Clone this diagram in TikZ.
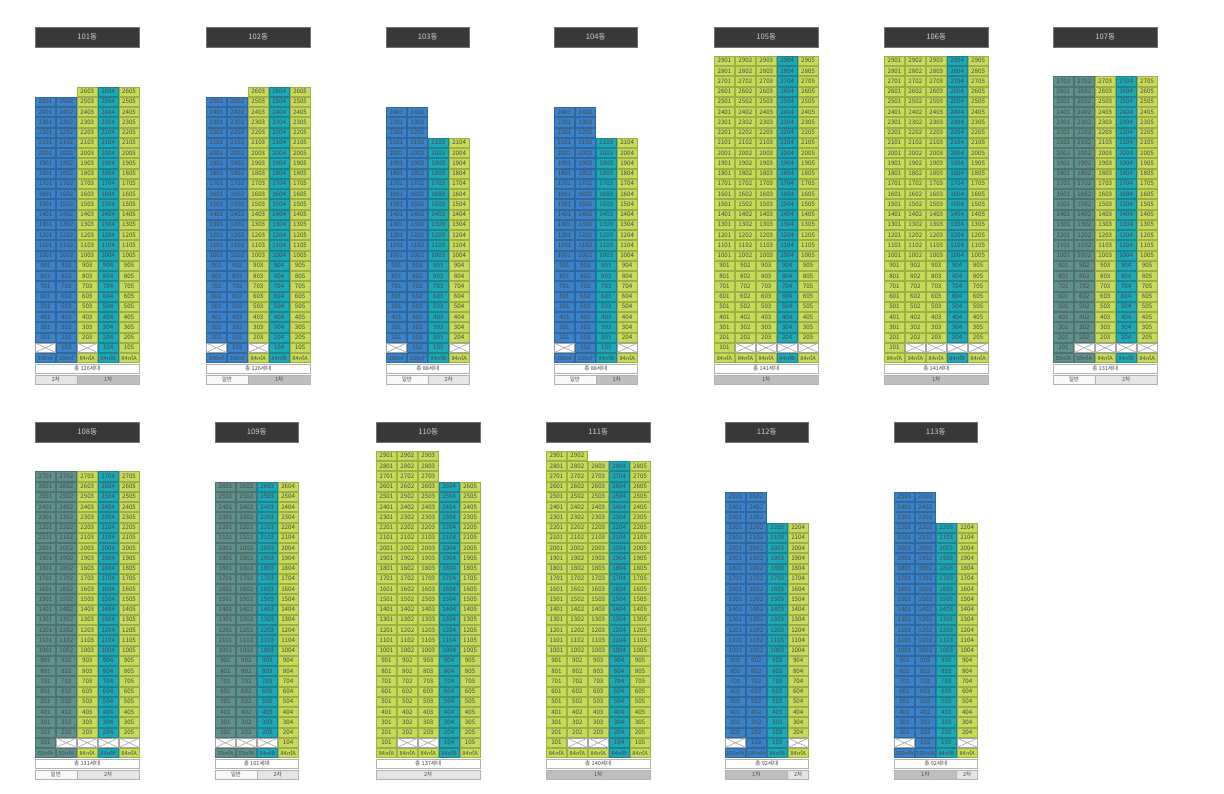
\documentclass[tikz,border=0pt]{standalone}
\usepackage{fontspec}
\setmainfont{Noto Sans CJK KR}
\usetikzlibrary{positioning}

\definecolor{unitblue}{HTML}{3B82C8}
\definecolor{unitteal}{HTML}{1DA7B7}
\definecolor{unitgreen}{HTML}{C7DB58}
\definecolor{unitgray}{HTML}{60908C}
\definecolor{phaseone}{HTML}{BEBEBE}
\definecolor{phasetwo}{HTML}{E5E5E5}
\definecolor{phasegen}{HTML}{F8F8F8}

\tikzset{
  unit/.style={fill=#1,draw=#1!80!black,line width=.25pt},
  nounit/.style={fill=white,draw=black!35,line width=.3pt},
  unitno/.style={font=\fontsize{3.1}{3.3}\selectfont,text=black!72,inner sep=0pt},
  unittype/.style={font=\fontsize{2.8}{3}\selectfont,text=black!72,inner sep=0pt},
  dongbar/.style={fill=black!78,draw=black!55,line width=.4pt},
  dongtext/.style={font=\fontsize{3.8}{4}\selectfont,text=black!18,inner sep=0pt},
  totalbox/.style={fill=white,draw=black!30,line width=.3pt},
  phasebox/.style={fill=#1,draw=black!30,line width=.3pt},
  smalltext/.style={font=\fontsize{2.8}{3}\selectfont,text=black!72,inner sep=0pt}
}

% #1 left x, #2 base y (type row), #3 dong, #4 columns, #5 column data, #6 total, #7 phases
\newcommand{\dongblk}[7]{%
  \pgfmathsetmacro\bR{#1+#4*20.9}
  \filldraw[dongbar] (#1,#2-331) rectangle (\bR,#2-311);
  \node[dongtext] (h#3) at ({(#1+\bR)/2},#2-321) {#3동};
  \foreach \c/\top/\typ/\fone [count=\i from 0] in {#5} {
    \pgfmathsetmacro\cx{#1+\i*20.9}
    \foreach \f in {2,...,\top} {
      \pgfmathtruncatemacro\rno{\f*100+\i+1}
      \filldraw[unit=\c] (\cx+.5,#2-\f*10.25-4.6) rectangle (\cx+20.4,#2-\f*10.25+4.6);
      \node[unitno] (u#3-\rno) at (\cx+10.45,#2-\f*10.25) {\rno};
    }
    \pgfmathtruncatemacro\rno{101+\i}
    \ifnum\fone=1
      \filldraw[unit=\c] (\cx+.5,#2-14.85) rectangle (\cx+20.4,#2-5.65);
      \node[unitno] (u#3-\rno) at (\cx+10.45,#2-10.25) {\rno};
    \else
      \filldraw[nounit] (\cx+.5,#2-14.85) rectangle (\cx+20.4,#2-5.65);
      \draw[nounit] (\cx+.5,#2-14.85) -- (\cx+20.4,#2-5.65) (\cx+.5,#2-5.65) -- (\cx+20.4,#2-14.85);
    \fi
    \filldraw[unit=\c] (\cx+.5,#2-4.6) rectangle (\cx+20.4,#2+4.6);
    \node[unittype] (t#3-\i) at (\cx+10.45,#2) {\typ};
  }
  \filldraw[totalbox] (#1,#2+6) rectangle (\bR,#2+15.5);
  \node[smalltext] (s#3) at ({(#1+\bR)/2},#2+10.75) {총 #6세대};
  \foreach \a/\b/\lab/\ph in {#7} {
    \filldraw[phasebox=\ph] (#1+\a*20.9,#2+17) rectangle (#1+\b*20.9,#2+26.5);
    \node[smalltext] (p#3-\a) at (#1+\a*10.45+\b*10.45,#2+21.75) {\lab};
  }
}

\begin{document}
\begin{tikzpicture}[x=.5pt,y=-.5pt]
\useasboundingbox[fill=white] (0,0) rectangle (1224,793);
% row 1
\dongblk{35}{358}{101}{5}{unitblue/25/100㎡/0,unitblue/25/100㎡/1,unitgreen/26/84㎡A/0,unitteal/26/84㎡B/1,unitgreen/26/84㎡A/1}{126}{0/2/2차/phasetwo,2/5/1차/phaseone}
\dongblk{206}{358}{102}{5}{unitblue/25/100㎡/0,unitblue/25/100㎡/1,unitgreen/26/84㎡A/0,unitteal/26/84㎡B/1,unitgreen/26/84㎡A/1}{126}{0/2/일반/phasegen,2/5/1차/phaseone}
\dongblk{386}{358}{103}{4}{unitblue/24/100㎡/0,unitblue/24/100㎡/1,unitteal/21/84㎡B/1,unitgreen/21/84㎡A/0}{88}{0/2/일반/phasegen,2/4/2차/phasetwo}
\dongblk{554}{358}{104}{4}{unitblue/24/100㎡/0,unitblue/24/100㎡/1,unitteal/21/84㎡B/1,unitgreen/21/84㎡A/0}{88}{0/2/일반/phasegen,2/4/1차/phaseone}
\dongblk{714}{358}{105}{5}{unitgreen/29/84㎡A/1,unitgreen/29/84㎡A/0,unitgreen/29/84㎡A/0,unitteal/29/84㎡B/0,unitgreen/29/84㎡A/0}{141}{0/5/1차/phaseone}
\dongblk{884}{358}{106}{5}{unitgreen/29/84㎡A/1,unitgreen/29/84㎡A/0,unitgreen/29/84㎡A/0,unitteal/29/84㎡B/0,unitgreen/29/84㎡A/0}{141}{0/5/1차/phaseone}
\dongblk{1053}{358}{107}{5}{unitgray/27/59㎡A/1,unitgray/27/59㎡A/0,unitgreen/27/84㎡A/0,unitteal/27/84㎡B/0,unitgreen/27/84㎡A/0}{131}{0/2/일반/phasegen,2/5/2차/phasetwo}
% row 2
\dongblk{35}{753}{108}{5}{unitgray/27/59㎡A/1,unitgray/27/59㎡A/0,unitgreen/27/84㎡A/0,unitteal/27/84㎡B/0,unitgreen/27/84㎡A/0}{131}{0/2/일반/phasegen,2/5/2차/phasetwo}
\dongblk{215}{753}{109}{4}{unitgray/26/59㎡A/0,unitgray/26/59㎡A/0,unitteal/26/84㎡B/0,unitgreen/26/84㎡A/1}{101}{0/2/일반/phasegen,2/4/2차/phasetwo}
\dongblk{376}{753}{110}{5}{unitgreen/29/84㎡A/1,unitgreen/29/84㎡A/0,unitgreen/29/84㎡A/0,unitteal/26/84㎡B/1,unitgreen/26/84㎡A/1}{137}{0/5/2차/phasetwo}
\dongblk{546}{753}{111}{5}{unitgreen/29/84㎡A/1,unitgreen/29/84㎡A/0,unitgreen/28/84㎡A/0,unitteal/28/84㎡B/1,unitgreen/28/84㎡A/1}{140}{0/5/1차/phaseone}
\dongblk{725}{753}{112}{4}{unitblue/25/100㎡A/0,unitblue/25/100㎡A/1,unitteal/22/84㎡B/1,unitgreen/22/84㎡A/0}{92}{0/3/1차/phaseone,3/4/2차/phasetwo}
\dongblk{894}{753}{113}{4}{unitblue/25/100㎡A/0,unitblue/25/100㎡A/1,unitteal/22/84㎡B/1,unitgreen/22/84㎡A/0}{92}{0/3/1차/phaseone,3/4/2차/phasetwo}
\end{tikzpicture}
\end{document}
